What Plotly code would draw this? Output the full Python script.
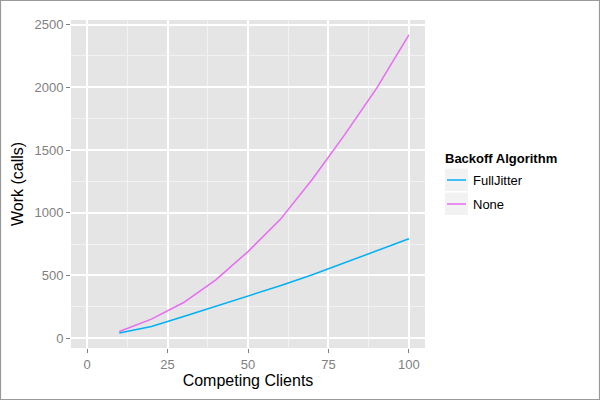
import plotly.graph_objects as go

# Data
clients = [10, 20, 30, 40, 50, 60, 70, 80, 90, 100]
work_fulljitter = [40, 93, 172, 252, 332, 418, 505, 600, 695, 792]
work_none = [53, 151, 284, 465, 690, 945, 1267, 1621, 1993, 2418]

series = [
    ("FullJitter", work_fulljitter, "#00B0F6"),
    ("None", work_none, "#E76BF3"),
]

# plot area in pixels: left 71, right 425, top 20, bottom 348
W, H = 600, 400
L, R, T, B = 71, 175, 20, 52
PW, PH = W - L - R, H - T - B


def px(x):
    return (x - L) / PW


def py(y):
    return (H - B - y) / PH


fig = go.Figure()
shapes = []
annotations = []
for i, (name, ys, color) in enumerate(series):
    fig.add_trace(go.Scatter(
        x=clients, y=ys, name=name, mode="lines",
        line=dict(color=color, width=1.5), showlegend=False,
    ))
    # ggplot-style legend key
    top = 168.5 + i * 24
    shapes.append(dict(type="rect", xref="paper", yref="paper",
                       x0=px(445), x1=px(468), y0=py(top + 22.5), y1=py(top),
                       fillcolor="#F2F2F2", line=dict(width=0)))
    shapes.append(dict(type="line", xref="paper", yref="paper",
                       x0=px(447), x1=px(466), y0=py(top + 11.5), y1=py(top + 11.5),
                       line=dict(color=color, width=1.5)))
    annotations.append(dict(text=name, xref="paper", yref="paper",
                            x=px(471), y=py(top + 11.5), xanchor="left", yanchor="middle",
                            showarrow=False, font=dict(size=13, color="black")))

annotations.append(dict(text="<b>Backoff Algorithm</b>", xref="paper", yref="paper",
                        x=px(443), y=py(158), xanchor="left", yanchor="middle",
                        showarrow=False, font=dict(size=13, color="black")))

# outer grey frame
shapes.append(dict(type="rect", xref="paper", yref="paper",
                   x0=px(0.5), x1=px(599.5), y0=py(399.5), y1=py(0.5),
                   line=dict(color="#999999", width=1.2), fillcolor="rgba(0,0,0,0)",
                   layer="below"))

grid_minor = dict(showgrid=True, gridcolor="#F2F2F2", gridwidth=0.6)

fig.update_xaxes(
    range=[-5, 105], tickvals=[0, 25, 50, 75, 100],
    showgrid=True, gridcolor="white", gridwidth=1.5,
    minor=dict(tickvals=[12.5, 37.5, 62.5, 87.5], **grid_minor),
    ticks="outside", ticklen=4, tickcolor="#7F7F7F",
    tickfont=dict(size=13, color="#7F7F7F"),
    title=dict(text="Competing Clients", font=dict(size=16, color="black"), standoff=4),
    zeroline=False, showline=False,
)
fig.update_yaxes(
    range=[-79, 2537], tickvals=[0, 500, 1000, 1500, 2000, 2500],
    showgrid=True, gridcolor="white", gridwidth=1.5,
    minor=dict(tickvals=[250, 750, 1250, 1750, 2250], **grid_minor),
    ticks="outside", ticklen=4, tickcolor="#7F7F7F",
    tickfont=dict(size=13, color="#7F7F7F"),
    title=dict(text="Work (calls)", font=dict(size=16, color="black"), standoff=6),
    zeroline=False, showline=False,
)

fig.update_layout(
    width=W, height=H,
    margin=dict(l=L, r=R, t=T, b=B),
    paper_bgcolor="white", plot_bgcolor="#E5E5E5",
    font=dict(family="Liberation Sans, Arial, sans-serif"),
    showlegend=False,
    shapes=shapes, annotations=annotations,
)

fig.write_html("out.html", config={"displayModeBar": False},
               post_script="document.body.style.margin='0';")
